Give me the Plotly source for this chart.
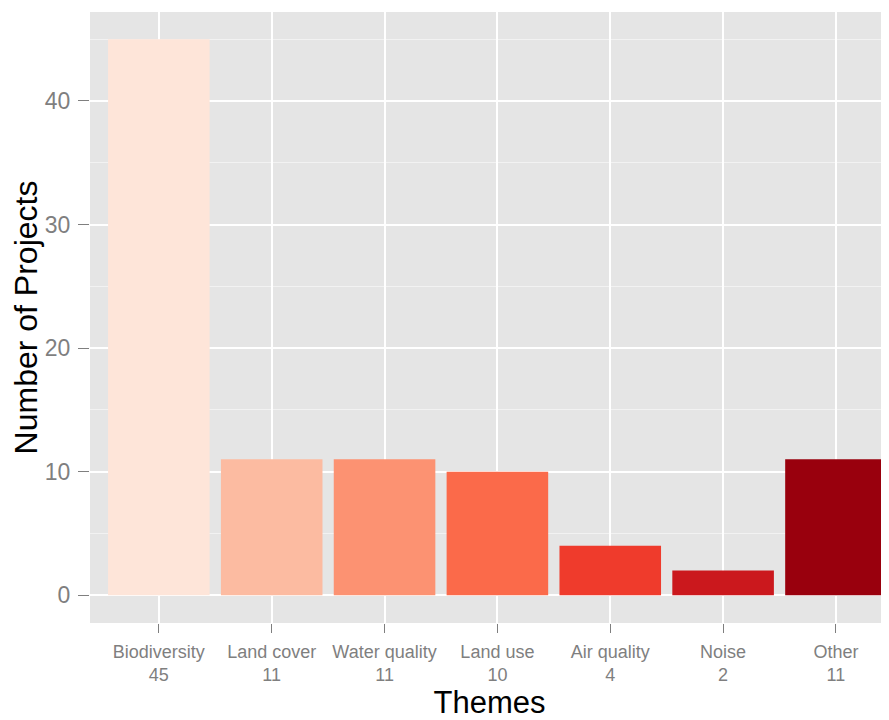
import plotly.graph_objects as go

themes = ["Biodiversity", "Land cover", "Water quality", "Land use", "Air quality", "Noise", "Other"]
counts = [45, 11, 11, 10, 4, 2, 11]
bar_colors = ["#FEE5D9", "#FCBBA1", "#FC9272", "#FB6A4A", "#EF3B2C", "#CB181D", "#99000D"]

tick_text = [f"{t}<br>{c}" for t, c in zip(themes, counts)]

fig = go.Figure(go.Bar(x=themes, y=counts, marker=dict(color=bar_colors, line=dict(width=0)),
                       width=0.9))

fig.update_layout(
    width=881, height=712,
    margin=dict(l=82, r=0, t=4, b=97),
    paper_bgcolor="white",
    plot_bgcolor="#E5E5E5",
    font=dict(family="Liberation Sans, Arial, sans-serif"),
    showlegend=False,
)
fig.update_xaxes(
    type="category",
    range=[-0.61, 6.47],
    tickmode="array", tickvals=themes, ticktext=tick_text,
    tickangle=0,
    tickfont=dict(size=18, color="#7F7F7F"),
    ticks="outside", ticklen=9, tickcolor="#7F7F7F", tickwidth=1,
    ticklabelstandoff=3,
    showgrid=True, gridcolor="white", gridwidth=2,
    showline=False, zeroline=False,
    title=dict(text="Themes", font=dict(size=31, color="black"), standoff=12),
    automargin=False,
)
fig.update_yaxes(
    range=[-2.25, 47.2],
    tickvals=[0, 10, 20, 30, 40],
    tickfont=dict(size=23, color="#7F7F7F"),
    ticks="outside", ticklen=11, tickcolor="#7F7F7F", tickwidth=1,
    ticklabelstandoff=3,
    showgrid=True, gridcolor="white", gridwidth=2,
    minor=dict(tickvals=[5, 15, 25, 35, 45], showgrid=True, gridcolor="#F2F2F2", gridwidth=1, ticks=""),
    showline=False, zeroline=False,
    title=dict(text="Number of Projects", font=dict(size=32, color="black"), standoff=6),
    automargin=False,
)

fig.write_html("out.html")
